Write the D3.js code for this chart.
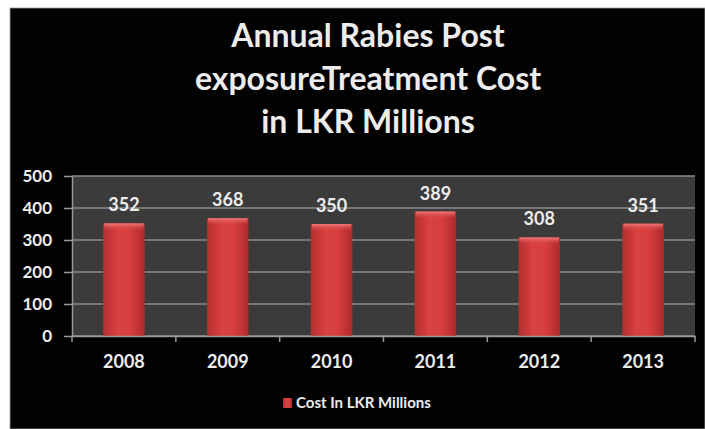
<!DOCTYPE html>
<html>
<head>
<meta charset="utf-8">
<script src="https://cdn.jsdelivr.net/npm/d3@7"></script>
<style>
  body { margin: 0; background: #fff; }
  svg { display: block; font-family: Lato, "Open Sans", sans-serif; }
</style>
</head>
<body>
<script>
// chart data
const years = ["2008", "2009", "2010", "2011", "2012", "2013"];
const costs = [352, 368, 350, 389, 308, 351];
const yTicks = [0, 100, 200, 300, 400, 500];
const titleLines = ["Annual Rabies Post", "exposureTreatment Cost", "in LKR Millions"];
const seriesName = "Cost In LKR Millions";

let width = 705, height = 429;
let plot = { left: 72, right: 695, top: 176, bottom: 336 };
const textColor = "#ececec";

let svg = d3.select("body")
  .append("svg")
  .attr("width", width)
  .attr("height", height);

// gradients for the bars
let defs = svg.append("defs");
let hg = defs.append("linearGradient").attr("id", "barH")
  .attr("x1", "0").attr("x2", "1").attr("y1", "0").attr("y2", "0");
hg.append("stop").attr("offset", "0%").attr("stop-color", "#b52e2e");
hg.append("stop").attr("offset", "35%").attr("stop-color", "#da4141");
hg.append("stop").attr("offset", "65%").attr("stop-color", "#d73e3e");
hg.append("stop").attr("offset", "100%").attr("stop-color", "#ad2a2a");

let vg = defs.append("linearGradient").attr("id", "barTop")
  .attr("x1", "0").attr("x2", "0").attr("y1", "0").attr("y2", "1");
vg.append("stop").attr("offset", "0%").attr("stop-color", "#f07a7a");
vg.append("stop").attr("offset", "100%").attr("stop-color", "#d94444").attr("stop-opacity", 0);

// black slide background with white strip on top / left
svg.append("rect")
  .attr("x", 10).attr("y", 8)
  .attr("width", width - 10).attr("height", height - 8)
  .attr("fill", "#020202")
  .attr("stroke", "#9a9a9a").attr("stroke-width", 0.8);

// title
svg.append("g")
  .selectAll("text")
  .data(titleLines)
  .enter()
  .append("text")
  .attr("x", 368)
  .attr("y", (d, i) => 47 + i * 43)
  .attr("text-anchor", "middle")
  .attr("fill", textColor)
  .style("font-size", "32px")
  .style("font-weight", "bold")
  .text(d => d);

// scales
const xScale = d3.scaleBand()
  .domain(years)
  .range([plot.left, plot.right])
  .paddingInner(0.6)
  .paddingOuter(0.3);

const yScale = d3.scaleLinear()
  .domain([0, 500])
  .range([plot.bottom, plot.top]);

// plot area
svg.append("rect")
  .attr("x", plot.left).attr("y", plot.top)
  .attr("width", plot.right - plot.left)
  .attr("height", plot.bottom - plot.top)
  .attr("fill", "#3b3b3b");

// gridlines
svg.append("g")
  .selectAll("line")
  .data(yTicks)
  .enter()
  .append("line")
  .attr("x1", plot.left).attr("x2", plot.right)
  .attr("y1", d => yScale(d)).attr("y2", d => yScale(d))
  .attr("stroke", "#8c8c8c")
  .attr("stroke-width", 1.5);

// bars
let bars = svg.append("g")
  .selectAll("g")
  .data(years)
  .enter()
  .append("g");

bars.append("rect")
  .attr("x", d => xScale(d))
  .attr("y", (d, i) => yScale(costs[i]))
  .attr("width", xScale.bandwidth())
  .attr("height", (d, i) => yScale(0) - yScale(costs[i]))
  .attr("fill", "url(#barH)");

bars.append("rect")
  .attr("x", d => xScale(d) + 1)
  .attr("y", (d, i) => yScale(costs[i]))
  .attr("width", xScale.bandwidth() - 2)
  .attr("height", 7)
  .attr("fill", "url(#barTop)");

// value labels
bars.append("text")
  .attr("x", d => xScale(d) + xScale.bandwidth() / 2)
  .attr("y", (d, i) => yScale(costs[i]) - 12)
  .attr("text-anchor", "middle")
  .attr("fill", textColor)
  .style("font-size", "18px")
  .style("font-weight", "bold")
  .text((d, i) => costs[i]);

// y axis
let yAxis = svg.append("g")
  .attr("transform", `translate(${plot.left},0)`)
  .call(d3.axisLeft(yScale).tickValues(yTicks).tickSize(8).tickPadding(12).tickSizeOuter(0));
yAxis.select(".domain").attr("stroke", "#9a9a9a").attr("stroke-width", 1.5);
yAxis.selectAll(".tick line").attr("stroke", "#9a9a9a").attr("stroke-width", 1.5);
yAxis.selectAll("text")
  .attr("fill", textColor)
  .style("font-size", "17px")
  .style("font-weight", "bold")
  .style("font-family", "Lato, sans-serif");

// x axis
let xAxis = svg.append("g")
  .attr("transform", `translate(0,${plot.bottom})`)
  .call(d3.axisBottom(xScale).tickSize(0).tickPadding(19).tickSizeOuter(0));
xAxis.select(".domain").attr("stroke", "#9a9a9a").attr("stroke-width", 1.5);
xAxis.selectAll("text")
  .attr("fill", textColor)
  .style("font-size", "18px")
  .style("font-weight", "bold")
  .style("font-family", "Lato, sans-serif");

// category boundary ticks
svg.append("g")
  .selectAll("line")
  .data(d3.range(years.length + 1))
  .enter()
  .append("line")
  .attr("x1", i => plot.left + i * xScale.step())
  .attr("x2", i => plot.left + i * xScale.step())
  .attr("y1", plot.bottom)
  .attr("y2", plot.bottom + 6)
  .attr("stroke", "#9a9a9a")
  .attr("stroke-width", 1.5);

// legend
let legend = svg.append("g").attr("transform", "translate(283,403)");
legend.append("rect")
  .attr("x", 0).attr("y", -5)
  .attr("width", 9).attr("height", 10)
  .attr("fill", "url(#barH)");
legend.append("text")
  .attr("x", 13).attr("y", 5)
  .attr("fill", textColor)
  .style("font-size", "15px")
  .style("font-weight", "bold")
  .text(seriesName);
</script>
</body>
</html>
